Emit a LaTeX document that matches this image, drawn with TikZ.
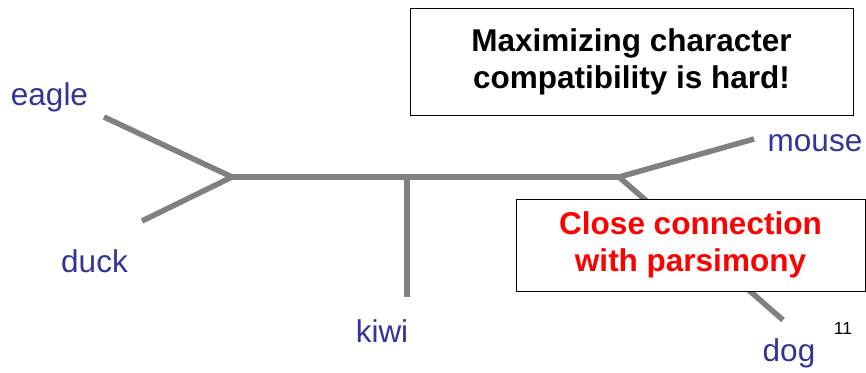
\documentclass[tikz,border=0pt]{standalone}
\usepackage{fontspec}
\setmainfont{Liberation Sans}
\definecolor{branch}{HTML}{808080}
\definecolor{taxon}{HTML}{333399}
\definecolor{alert}{HTML}{FF0000}
\begin{document}
\begin{tikzpicture}[x=1pt,y=-1pt,
  edge/.style={draw=branch,line width=5.5pt},
  leaf/.style={text=taxon,font=\fontsize{31.5}{37}\selectfont,anchor=base,inner sep=0pt},
  notebox/.style={draw=black,line width=1pt,fill=white,align=center,font=\fontsize{31.5}{37}\selectfont\bfseries,inner sep=0pt}]
\useasboundingbox (0,0) rectangle (866,372);
% tree
\coordinate (j1) at (232,177);
\coordinate (j2) at (407,177);
\coordinate (j3) at (619,177);
\coordinate (eagleEnd) at (104,117);
\coordinate (duckEnd) at (142,221);
\coordinate (kiwiEnd) at (407,297);
\coordinate (mouseEnd) at (754,139);
\coordinate (dogEnd) at (783,320);
\draw[edge] (eagleEnd) -- (j1) -- (duckEnd);
\draw[edge] (j1) -- (j3);
\draw[edge] (j2) -- (kiwiEnd);
\draw[edge] (mouseEnd) -- (j3) -- (dogEnd);
% labels
\node[leaf] (eagle) at (49.5,105) {eagle};
\node[leaf] (duck) at (94.5,272) {duck};
\node[leaf] (kiwi) at (382,342) {kiwi};
\node[leaf] (mouse) at (815,151) {mouse};
\node[leaf] (dog) at (789,361) {dog};
% boxes
\node[notebox,minimum width=443pt,minimum height=107pt] (hard) at (631.5,61.5)
  {Maximizing character\\compatibility is hard!};
\node[notebox,text=alert,minimum width=349pt,minimum height=92pt] (close) at (690.5,245)
  {Close connection\\with parsimony};
\node[font=\fontsize{17.5}{20}\selectfont,inner sep=0pt] (pagenum) at (843,328) {11};
\end{tikzpicture}
\end{document}
